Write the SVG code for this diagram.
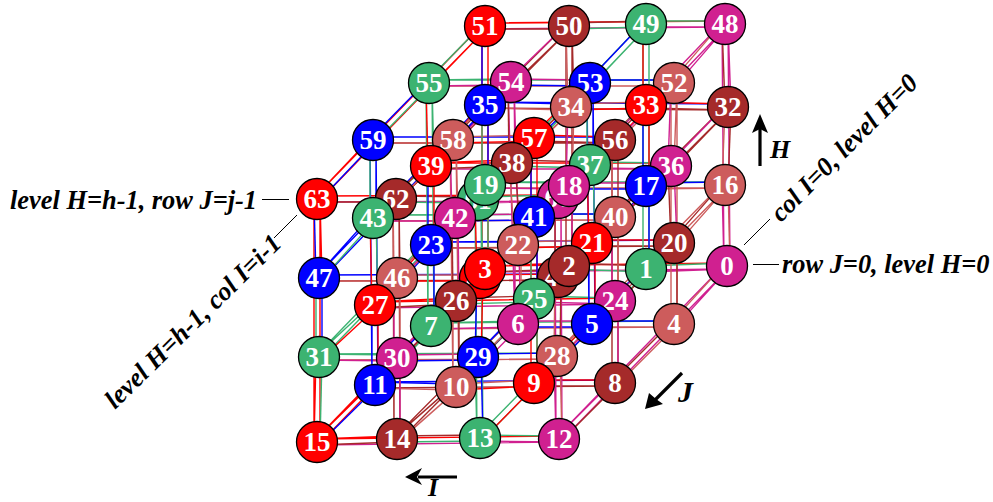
<svg xmlns="http://www.w3.org/2000/svg" width="993" height="502" viewBox="0 0 993 502">
<style>
.m{stroke:#D02090}.g{stroke:#3CB371}.b{stroke:#A52A2A}.r{stroke:#FF0000}.i{stroke:#CD5C5C}.u{stroke:#0000FF}
#connectors path{fill:none;stroke-width:1.4}
.M{fill:#D02090}.G{fill:#3CB371}.B{fill:#A52A2A}.R{fill:#FF0000}.I{fill:#CD5C5C}.U{fill:#0000FF}
circle{stroke:#000;stroke-width:1.3}
.n{font:bold 27px "Liberation Serif",serif;fill:#fff;text-anchor:middle}
.l{font:italic bold 26.400px "Liberation Serif",serif;fill:#000}
.a{font:italic bold 26px "Liberation Serif",serif;fill:#000}
.k{stroke:#000;stroke-width:1;fill:none}
.s{stroke:#000;stroke-width:3.2;fill:none}
</style>
<rect width="993" height="502" fill="#fff"/>
<g id="connectors">
<g transform="translate(0,3)">
<path class="m" d="M485 269L727 266L646 269"/><path class="g" d="M646 269L569 266"/><path class="b" d="M569 266L485 269"/>
<path class="i" d="M431 326L674 324L592 324"/><path class="u" d="M592 324L518 324"/><path class="m" d="M518 324L431 326"/>
<path class="b" d="M375 385L615 383L534 383"/><path class="r" d="M534 383L456 387"/><path class="i" d="M456 387L375 385"/>
<path class="m" d="M317 442L559 439L480 438"/><path class="g" d="M480 438L397 439"/><path class="b" d="M397 439L317 442"/>
<path class="i" d="M485 185L725 185L646 186"/><path class="u" d="M646 186L569 186"/><path class="m" d="M569 186L485 185"/>
<path class="b" d="M431 245L674 243L592 243"/><path class="r" d="M592 243L518 245"/><path class="i" d="M518 245L431 245"/>
<path class="m" d="M375 305L615 301L534 299"/><path class="g" d="M534 299L456 301"/><path class="b" d="M456 301L375 305"/>
<path class="i" d="M319 357L557 356L478 357"/><path class="u" d="M478 357L397 358"/><path class="m" d="M397 358L319 357"/>
<path class="b" d="M485 105L728 107L646 105"/><path class="r" d="M646 105L571 107"/><path class="i" d="M571 107L485 105"/>
<path class="m" d="M431 166L671 166L590 165"/><path class="g" d="M590 165L512 163"/><path class="b" d="M512 163L431 166"/>
<path class="i" d="M373 218L615 217L534 217"/><path class="u" d="M534 217L455 218"/><path class="m" d="M455 218L373 218"/>
<path class="b" d="M319 278L558 277L480 278"/><path class="r" d="M480 278L397 278"/><path class="i" d="M397 278L319 278"/>
<path class="m" d="M485 26L725 24L646 24"/><path class="g" d="M646 24L569 26"/><path class="b" d="M569 26L485 26"/>
<path class="i" d="M429 83L674 83L590 83"/><path class="u" d="M590 83L511 82"/><path class="m" d="M511 82L429 83"/>
<path class="b" d="M373 140L615 140L534 138"/><path class="r" d="M534 138L453 140"/><path class="i" d="M453 140L373 140"/>
<path class="m" d="M317 199L558 198L478 200"/><path class="g" d="M478 200L396 199"/><path class="b" d="M396 199L317 199"/>
</g>
<g transform="translate(0,-3)">
<path class="r" d="M727 266L485 269L569 266"/><path class="b" d="M569 266L646 269"/><path class="g" d="M646 269L727 266"/>
<path class="g" d="M674 324L431 326L518 324"/><path class="m" d="M518 324L592 324"/><path class="u" d="M592 324L674 324"/>
<path class="u" d="M615 383L375 385L456 387"/><path class="i" d="M456 387L534 383"/><path class="r" d="M534 383L615 383"/>
<path class="r" d="M559 439L317 442L397 439"/><path class="b" d="M397 439L480 438"/><path class="g" d="M480 438L559 439"/>
<path class="g" d="M725 185L485 185L569 186"/><path class="m" d="M569 186L646 186"/><path class="u" d="M646 186L725 185"/>
<path class="u" d="M674 243L431 245L518 245"/><path class="i" d="M518 245L592 243"/><path class="r" d="M592 243L674 243"/>
<path class="r" d="M615 301L375 305L456 301"/><path class="b" d="M456 301L534 299"/><path class="g" d="M534 299L615 301"/>
<path class="g" d="M557 356L319 357L397 358"/><path class="m" d="M397 358L478 357"/><path class="u" d="M478 357L557 356"/>
<path class="u" d="M728 107L485 105L571 107"/><path class="i" d="M571 107L646 105"/><path class="r" d="M646 105L728 107"/>
<path class="r" d="M671 166L431 166L512 163"/><path class="b" d="M512 163L590 165"/><path class="g" d="M590 165L671 166"/>
<path class="g" d="M615 217L373 218L455 218"/><path class="m" d="M455 218L534 217"/><path class="u" d="M534 217L615 217"/>
<path class="u" d="M558 277L319 278L397 278"/><path class="i" d="M397 278L480 278"/><path class="r" d="M480 278L558 277"/>
<path class="r" d="M725 24L485 26L569 26"/><path class="b" d="M569 26L646 24"/><path class="g" d="M646 24L725 24"/>
<path class="g" d="M674 83L429 83L511 82"/><path class="m" d="M511 82L590 83"/><path class="u" d="M590 83L674 83"/>
<path class="u" d="M615 140L373 140L453 140"/><path class="i" d="M453 140L534 138"/><path class="r" d="M534 138L615 140"/>
<path class="r" d="M558 198L317 199L396 199"/><path class="b" d="M396 199L478 200"/><path class="g" d="M478 200L558 198"/>
</g>
<g transform="translate(2.1,2.1)">
<path class="m" d="M559 439L727 266L674 324"/><path class="i" d="M674 324L615 383"/><path class="b" d="M615 383L559 439"/>
<path class="g" d="M480 438L646 269L592 324"/><path class="u" d="M592 324L534 383"/><path class="r" d="M534 383L480 438"/>
<path class="b" d="M397 439L569 266L518 324"/><path class="m" d="M518 324L456 387"/><path class="i" d="M456 387L397 439"/>
<path class="r" d="M317 442L485 269L431 326"/><path class="g" d="M431 326L375 385"/><path class="u" d="M375 385L317 442"/>
<path class="i" d="M557 356L725 185L674 243"/><path class="b" d="M674 243L615 301"/><path class="m" d="M615 301L557 356"/>
<path class="u" d="M478 357L646 186L592 243"/><path class="r" d="M592 243L534 299"/><path class="g" d="M534 299L478 357"/>
<path class="m" d="M397 358L569 186L518 245"/><path class="i" d="M518 245L456 301"/><path class="b" d="M456 301L397 358"/>
<path class="g" d="M319 357L485 185L431 245"/><path class="u" d="M431 245L375 305"/><path class="r" d="M375 305L319 357"/>
<path class="b" d="M558 277L728 107L671 166"/><path class="m" d="M671 166L615 217"/><path class="i" d="M615 217L558 277"/>
<path class="r" d="M480 278L646 105L590 165"/><path class="g" d="M590 165L534 217"/><path class="u" d="M534 217L480 278"/>
<path class="i" d="M397 278L571 107L512 163"/><path class="b" d="M512 163L455 218"/><path class="m" d="M455 218L397 278"/>
<path class="u" d="M319 278L485 105L431 166"/><path class="r" d="M431 166L373 218"/><path class="g" d="M373 218L319 278"/>
<path class="m" d="M558 198L725 24L674 83"/><path class="i" d="M674 83L615 140"/><path class="b" d="M615 140L558 198"/>
<path class="g" d="M478 200L646 24L590 83"/><path class="u" d="M590 83L534 138"/><path class="r" d="M534 138L478 200"/>
<path class="b" d="M396 199L569 26L511 82"/><path class="m" d="M511 82L453 140"/><path class="i" d="M453 140L396 199"/>
<path class="r" d="M317 199L485 26L429 83"/><path class="g" d="M429 83L373 140"/><path class="u" d="M373 140L317 199"/>
</g>
<g transform="translate(-2.1,-2.1)">
<path class="m" d="M727 266L559 439L615 383"/><path class="b" d="M615 383L674 324"/><path class="i" d="M674 324L727 266"/>
<path class="g" d="M646 269L480 438L534 383"/><path class="r" d="M534 383L592 324"/><path class="u" d="M592 324L646 269"/>
<path class="b" d="M569 266L397 439L456 387"/><path class="i" d="M456 387L518 324"/><path class="m" d="M518 324L569 266"/>
<path class="r" d="M485 269L317 442L375 385"/><path class="u" d="M375 385L431 326"/><path class="g" d="M431 326L485 269"/>
<path class="i" d="M725 185L557 356L615 301"/><path class="m" d="M615 301L674 243"/><path class="b" d="M674 243L725 185"/>
<path class="u" d="M646 186L478 357L534 299"/><path class="g" d="M534 299L592 243"/><path class="r" d="M592 243L646 186"/>
<path class="m" d="M569 186L397 358L456 301"/><path class="b" d="M456 301L518 245"/><path class="i" d="M518 245L569 186"/>
<path class="g" d="M485 185L319 357L375 305"/><path class="r" d="M375 305L431 245"/><path class="u" d="M431 245L485 185"/>
<path class="b" d="M728 107L558 277L615 217"/><path class="i" d="M615 217L671 166"/><path class="m" d="M671 166L728 107"/>
<path class="r" d="M646 105L480 278L534 217"/><path class="u" d="M534 217L590 165"/><path class="g" d="M590 165L646 105"/>
<path class="i" d="M571 107L397 278L455 218"/><path class="m" d="M455 218L512 163"/><path class="b" d="M512 163L571 107"/>
<path class="u" d="M485 105L319 278L373 218"/><path class="g" d="M373 218L431 166"/><path class="r" d="M431 166L485 105"/>
<path class="m" d="M725 24L558 198L615 140"/><path class="b" d="M615 140L674 83"/><path class="i" d="M674 83L725 24"/>
<path class="g" d="M646 24L478 200L534 138"/><path class="r" d="M534 138L590 83"/><path class="u" d="M590 83L646 24"/>
<path class="b" d="M569 26L396 199L453 140"/><path class="i" d="M453 140L511 82"/><path class="m" d="M511 82L569 26"/>
<path class="r" d="M485 26L317 199L373 140"/><path class="u" d="M373 140L429 83"/><path class="g" d="M429 83L485 26"/>
</g>
<g transform="translate(-3,0)">
<path class="m" d="M725 24L727 266L725 185"/><path class="i" d="M725 185L728 107"/><path class="b" d="M728 107L725 24"/>
<path class="g" d="M646 24L646 269L646 186"/><path class="u" d="M646 186L646 105"/><path class="r" d="M646 105L646 24"/>
<path class="b" d="M569 26L569 266L569 186"/><path class="m" d="M569 186L571 107"/><path class="i" d="M571 107L569 26"/>
<path class="r" d="M485 26L485 269L485 185"/><path class="g" d="M485 185L485 105"/><path class="u" d="M485 105L485 26"/>
<path class="i" d="M674 83L674 324L674 243"/><path class="b" d="M674 243L671 166"/><path class="m" d="M671 166L674 83"/>
<path class="u" d="M590 83L592 324L592 243"/><path class="r" d="M592 243L590 165"/><path class="g" d="M590 165L590 83"/>
<path class="m" d="M511 82L518 324L518 245"/><path class="i" d="M518 245L512 163"/><path class="b" d="M512 163L511 82"/>
<path class="g" d="M429 83L431 326L431 245"/><path class="u" d="M431 245L431 166"/><path class="r" d="M431 166L429 83"/>
<path class="b" d="M615 140L615 383L615 301"/><path class="m" d="M615 301L615 217"/><path class="i" d="M615 217L615 140"/>
<path class="r" d="M534 138L534 383L534 299"/><path class="g" d="M534 299L534 217"/><path class="u" d="M534 217L534 138"/>
<path class="i" d="M453 140L456 387L456 301"/><path class="b" d="M456 301L455 218"/><path class="m" d="M455 218L453 140"/>
<path class="u" d="M373 140L375 385L375 305"/><path class="r" d="M375 305L373 218"/><path class="g" d="M373 218L373 140"/>
<path class="m" d="M558 198L559 439L557 356"/><path class="i" d="M557 356L558 277"/><path class="b" d="M558 277L558 198"/>
<path class="g" d="M478 200L480 438L478 357"/><path class="u" d="M478 357L480 278"/><path class="r" d="M480 278L478 200"/>
<path class="b" d="M396 199L397 439L397 358"/><path class="m" d="M397 358L397 278"/><path class="i" d="M397 278L396 199"/>
<path class="r" d="M317 199L317 442L319 357"/><path class="g" d="M319 357L319 278"/><path class="u" d="M319 278L317 199"/>
</g>
<g transform="translate(3,0)">
<path class="m" d="M727 266L725 24L728 107"/><path class="b" d="M728 107L725 185"/><path class="i" d="M725 185L727 266"/>
<path class="g" d="M646 269L646 24L646 105"/><path class="r" d="M646 105L646 186"/><path class="u" d="M646 186L646 269"/>
<path class="b" d="M569 266L569 26L571 107"/><path class="i" d="M571 107L569 186"/><path class="m" d="M569 186L569 266"/>
<path class="r" d="M485 269L485 26L485 105"/><path class="u" d="M485 105L485 185"/><path class="g" d="M485 185L485 269"/>
<path class="i" d="M674 324L674 83L671 166"/><path class="m" d="M671 166L674 243"/><path class="b" d="M674 243L674 324"/>
<path class="u" d="M592 324L590 83L590 165"/><path class="g" d="M590 165L592 243"/><path class="r" d="M592 243L592 324"/>
<path class="m" d="M518 324L511 82L512 163"/><path class="b" d="M512 163L518 245"/><path class="i" d="M518 245L518 324"/>
<path class="g" d="M431 326L429 83L431 166"/><path class="r" d="M431 166L431 245"/><path class="u" d="M431 245L431 326"/>
<path class="b" d="M615 383L615 140L615 217"/><path class="i" d="M615 217L615 301"/><path class="m" d="M615 301L615 383"/>
<path class="r" d="M534 383L534 138L534 217"/><path class="u" d="M534 217L534 299"/><path class="g" d="M534 299L534 383"/>
<path class="i" d="M456 387L453 140L455 218"/><path class="m" d="M455 218L456 301"/><path class="b" d="M456 301L456 387"/>
<path class="u" d="M375 385L373 140L373 218"/><path class="g" d="M373 218L375 305"/><path class="r" d="M375 305L375 385"/>
<path class="m" d="M559 439L558 198L558 277"/><path class="b" d="M558 277L557 356"/><path class="i" d="M557 356L559 439"/>
<path class="g" d="M480 438L478 200L480 278"/><path class="r" d="M480 278L478 357"/><path class="u" d="M478 357L480 438"/>
<path class="b" d="M397 439L396 199L397 278"/><path class="i" d="M397 278L397 358"/><path class="m" d="M397 358L397 439"/>
<path class="r" d="M317 442L317 199L319 278"/><path class="u" d="M319 278L319 357"/><path class="g" d="M319 357L317 442"/>
</g>
</g>
<g id="n63"><circle class="R" cx="317" cy="199" r="20.5"/><text class="n" x="317" y="208">63</text></g>
<g id="n62"><circle class="B" cx="396" cy="199" r="20.5"/><text class="n" x="396" y="208">62</text></g>
<g id="n61"><circle class="G" cx="478" cy="200" r="20.5"/><text class="n" x="478" y="209">61</text></g>
<g id="n60"><circle class="M" cx="558" cy="198" r="20.5"/><text class="n" x="558" y="207">60</text></g>
<g id="n59"><circle class="U" cx="373" cy="140" r="20.5"/><text class="n" x="373" y="149">59</text></g>
<g id="n58"><circle class="I" cx="453" cy="140" r="20.5"/><text class="n" x="453" y="149">58</text></g>
<g id="n57"><circle class="R" cx="534" cy="138" r="20.5"/><text class="n" x="534" y="147">57</text></g>
<g id="n56"><circle class="B" cx="615" cy="140" r="20.5"/><text class="n" x="615" y="149">56</text></g>
<g id="n55"><circle class="G" cx="429" cy="83" r="20.5"/><text class="n" x="429" y="92">55</text></g>
<g id="n54"><circle class="M" cx="511" cy="82" r="20.5"/><text class="n" x="511" y="91">54</text></g>
<g id="n53"><circle class="U" cx="590" cy="83" r="20.5"/><text class="n" x="590" y="92">53</text></g>
<g id="n52"><circle class="I" cx="674" cy="83" r="20.5"/><text class="n" x="674" y="92">52</text></g>
<g id="n51"><circle class="R" cx="485" cy="26" r="20.5"/><text class="n" x="485" y="35">51</text></g>
<g id="n50"><circle class="B" cx="569" cy="26" r="20.5"/><text class="n" x="569" y="35">50</text></g>
<g id="n49"><circle class="G" cx="646" cy="24" r="20.5"/><text class="n" x="646" y="33">49</text></g>
<g id="n48"><circle class="M" cx="725" cy="24" r="20.5"/><text class="n" x="725" y="33">48</text></g>
<g id="n47"><circle class="U" cx="319" cy="278" r="20.5"/><text class="n" x="319" y="287">47</text></g>
<g id="n46"><circle class="I" cx="397" cy="278" r="20.5"/><text class="n" x="397" y="287">46</text></g>
<g id="n45"><circle class="R" cx="480" cy="278" r="20.5"/><text class="n" x="480" y="287">45</text></g>
<g id="n44"><circle class="B" cx="558" cy="277" r="20.5"/><text class="n" x="558" y="286">44</text></g>
<g id="n43"><circle class="G" cx="373" cy="218" r="20.5"/><text class="n" x="373" y="227">43</text></g>
<g id="n42"><circle class="M" cx="455" cy="218" r="20.5"/><text class="n" x="455" y="227">42</text></g>
<g id="n41"><circle class="U" cx="534" cy="217" r="20.5"/><text class="n" x="534" y="226">41</text></g>
<g id="n40"><circle class="I" cx="615" cy="217" r="20.5"/><text class="n" x="615" y="226">40</text></g>
<g id="n39"><circle class="R" cx="431" cy="166" r="20.5"/><text class="n" x="431" y="175">39</text></g>
<g id="n38"><circle class="B" cx="512" cy="163" r="20.5"/><text class="n" x="512" y="172">38</text></g>
<g id="n37"><circle class="G" cx="590" cy="165" r="20.5"/><text class="n" x="590" y="174">37</text></g>
<g id="n36"><circle class="M" cx="671" cy="166" r="20.5"/><text class="n" x="671" y="175">36</text></g>
<g id="n35"><circle class="U" cx="485" cy="105" r="20.5"/><text class="n" x="485" y="114">35</text></g>
<g id="n34"><circle class="I" cx="571" cy="107" r="20.5"/><text class="n" x="571" y="116">34</text></g>
<g id="n33"><circle class="R" cx="646" cy="105" r="20.5"/><text class="n" x="646" y="114">33</text></g>
<g id="n32"><circle class="B" cx="728" cy="107" r="20.5"/><text class="n" x="728" y="116">32</text></g>
<g id="n31"><circle class="G" cx="319" cy="357" r="20.5"/><text class="n" x="319" y="366">31</text></g>
<g id="n30"><circle class="M" cx="397" cy="358" r="20.5"/><text class="n" x="397" y="367">30</text></g>
<g id="n29"><circle class="U" cx="478" cy="357" r="20.5"/><text class="n" x="478" y="366">29</text></g>
<g id="n28"><circle class="I" cx="557" cy="356" r="20.5"/><text class="n" x="557" y="365">28</text></g>
<g id="n27"><circle class="R" cx="375" cy="305" r="20.5"/><text class="n" x="375" y="314">27</text></g>
<g id="n26"><circle class="B" cx="456" cy="301" r="20.5"/><text class="n" x="456" y="310">26</text></g>
<g id="n25"><circle class="G" cx="534" cy="299" r="20.5"/><text class="n" x="534" y="308">25</text></g>
<g id="n24"><circle class="M" cx="615" cy="301" r="20.5"/><text class="n" x="615" y="310">24</text></g>
<g id="n23"><circle class="U" cx="431" cy="245" r="20.5"/><text class="n" x="431" y="254">23</text></g>
<g id="n22"><circle class="I" cx="518" cy="245" r="20.5"/><text class="n" x="518" y="254">22</text></g>
<g id="n21"><circle class="R" cx="592" cy="243" r="20.5"/><text class="n" x="592" y="252">21</text></g>
<g id="n20"><circle class="B" cx="674" cy="243" r="20.5"/><text class="n" x="674" y="252">20</text></g>
<g id="n19"><circle class="G" cx="485" cy="185" r="20.5"/><text class="n" x="485" y="194">19</text></g>
<g id="n18"><circle class="M" cx="569" cy="186" r="20.5"/><text class="n" x="569" y="195">18</text></g>
<g id="n17"><circle class="U" cx="646" cy="186" r="20.5"/><text class="n" x="646" y="195">17</text></g>
<g id="n16"><circle class="I" cx="725" cy="185" r="20.5"/><text class="n" x="725" y="194">16</text></g>
<g id="n15"><circle class="R" cx="317" cy="442" r="20.5"/><text class="n" x="317" y="451">15</text></g>
<g id="n14"><circle class="B" cx="397" cy="439" r="20.5"/><text class="n" x="397" y="448">14</text></g>
<g id="n13"><circle class="G" cx="480" cy="438" r="20.5"/><text class="n" x="480" y="447">13</text></g>
<g id="n12"><circle class="M" cx="559" cy="439" r="20.5"/><text class="n" x="559" y="448">12</text></g>
<g id="n11"><circle class="U" cx="375" cy="385" r="20.5"/><text class="n" x="375" y="394">11</text></g>
<g id="n10"><circle class="I" cx="456" cy="387" r="20.5"/><text class="n" x="456" y="396">10</text></g>
<g id="n9"><circle class="R" cx="534" cy="383" r="20.5"/><text class="n" x="534" y="392">9</text></g>
<g id="n8"><circle class="B" cx="615" cy="383" r="20.5"/><text class="n" x="615" y="392">8</text></g>
<g id="n7"><circle class="G" cx="431" cy="326" r="20.5"/><text class="n" x="431" y="335">7</text></g>
<g id="n6"><circle class="M" cx="518" cy="324" r="20.5"/><text class="n" x="518" y="333">6</text></g>
<g id="n5"><circle class="U" cx="592" cy="324" r="20.5"/><text class="n" x="592" y="333">5</text></g>
<g id="n4"><circle class="I" cx="674" cy="324" r="20.5"/><text class="n" x="674" y="333">4</text></g>
<g id="n3"><circle class="R" cx="485" cy="269" r="20.5"/><text class="n" x="485" y="278">3</text></g>
<g id="n2"><circle class="B" cx="569" cy="266" r="20.5"/><text class="n" x="569" y="275">2</text></g>
<g id="n1"><circle class="G" cx="646" cy="269" r="20.5"/><text class="n" x="646" y="278">1</text></g>
<g id="n0"><circle class="M" cx="727" cy="266" r="20.5"/><text class="n" x="727" y="275">0</text></g>
<g id="annotations">
<path class="k" d="M262 199.500H289M297 215L274 238M770 219L744 245M753 264.500H779"/>
<text class="l" x="10" y="209">level H=h-1, row J=j-1</text>
<text class="l" transform="translate(115,410) rotate(-44.500)">level H=h-1, col I=i-1</text>
<text class="l" transform="translate(781,223) rotate(-45)">col I=0, level H=0</text>
<text class="l" x="782" y="273">row J=0, level H=0</text>
<path class="s" d="M760 166V128"/><path d="M760 114L768 133L760 129L752 133Z"/>
<text class="a" x="770" y="158">H</text>
<path class="s" d="M682 373L655 400"/><path d="M645 409L649 393L656 399L663 404Z"/>
<text class="a" x="678" y="402" style="font-size:30px">J</text>
<path class="s" d="M457 477H418"/><path d="M405 477L422 468L417 477L422 485Z"/>
<text class="a" x="428" y="496">I</text>
</g>
</svg>
